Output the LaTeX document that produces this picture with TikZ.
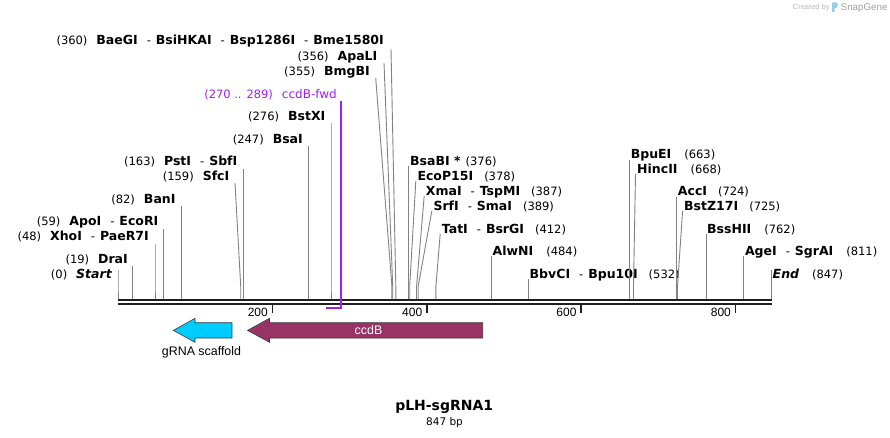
\documentclass[tikz,border=0pt]{standalone}
\usepackage{fontspec}
\setmainfont{DejaVu Sans}
\newfontfamily\arialfont{Liberation Sans}
\definecolor{sitegray}{RGB}{130,130,130}
\definecolor{primerpurple}{RGB}{160,32,240}
\definecolor{cyanfeat}{RGB}{0,204,255}
\definecolor{ccdbcol}{RGB}{153,51,102}
\definecolor{bbcol}{RGB}{30,30,30}
\definecolor{outl}{RGB}{60,60,60}
\definecolor{wmgray}{RGB}{185,185,185}
\definecolor{wmgray2}{RGB}{160,160,160}
\definecolor{logoblue}{RGB}{150,205,235}
\newcommand\nm[1]{{\fontsize{12.5}{14}\selectfont\bfseries #1}}
\newcommand\ps[1]{{\fontsize{11.5}{13}\selectfont(#1)}}
\newcommand\dsh{\hspace{9pt}{\fontsize{11.5}{13}\selectfont-}\hspace{5pt}}
\newcommand\Lsite[7]{%
  \coordinate (#1-t) at (#4,#5);
  \coordinate (#1-k) at (#6,286);
  \coordinate (#1-s) at (#6,299);
  \node[lbl,anchor=east] (#1) at (#2,#3) {#7};
  \draw[siteline] (#1-t) -- (#1-k) -- (#1-s);}
\newcommand\Rsite[7]{%
  \coordinate (#1-t) at (#4,#5);
  \coordinate (#1-k) at (#6,286);
  \coordinate (#1-s) at (#6,299);
  \node[lbl,anchor=west] (#1) at (#2,#3) {#7};
  \draw[siteline] (#1-t) -- (#1-k) -- (#1-s);}
\tikzset{
  lbl/.style={inner sep=0pt, font=\fontsize{11.5}{13}\selectfont},
  siteline/.style={draw=sitegray, line width=0.9pt},
  backbone/.style={draw=bbcol, line width=2pt},
  tickmark/.style={draw=bbcol, line width=1.6pt},
  ticklbl/.style={inner sep=0pt, anchor=base east, font=\arialfont\fontsize{12}{14}\selectfont},
  featarrow/.style={draw=outl, line width=0.6pt},
  primerline/.style={draw=primerpurple, line width=1.5pt},
}
\begin{document}
\begin{tikzpicture}[x=1pt,y=-1pt]
\useasboundingbox (0,0) rectangle (890,438);
\fill[white] (0,0) rectangle (890,438);

% watermark
\node[inner sep=0pt, anchor=base west, text=wmgray, font=\arialfont\fontsize{7.5}{9}\selectfont] (wm1) at (792.7,10) {Created by};
\fill[logoblue] (832,2.5) -- (836.5,2.5) -- (838,5) -- (836.5,7.8) -- (834.6,8.2) -- (834.6,12) -- (832,12) -- cycle;
\node[inner sep=0pt, anchor=base west, text=wmgray2, font=\arialfont\fontsize{9.8}{11}\selectfont] (wm2) at (840.5,10.5) {SnapGene};

% backbone
\coordinate (bbl1) at (118,300); \coordinate (bbr1) at (771.6,300);
\coordinate (bbl2) at (118,304); \coordinate (bbr2) at (771.6,304);
\draw[backbone] (bbl1) -- (bbr1);
\draw[backbone] (bbl2) -- (bbr2);

% ticks
\foreach \v/\xx in {200/272.3,400/426.7,600/581.0,800/735.4}{
  \coordinate (tk\v a) at (\xx,304);
  \coordinate (tk\v b) at (\xx,313);
  \draw[tickmark] (tk\v a) -- (tk\v b);
  \node[ticklbl] (tl\v) at (\xx-4.3,316) {\v};
}

% left labels
\Lsite{start}{112}{274.5}{118}{270}{118}{\ps{0}\hspace{9pt}\nm{\itshape Start}}
\Lsite{dra}{128}{260}{132.7}{266}{132.7}{\ps{19}\hspace{9pt}\nm{DraI}}
\Lsite{xho}{149}{237}{155}{244}{155}{\ps{48}\hspace{9pt}\nm{XhoI}\dsh\nm{PaeR7I}}
\Lsite{apo}{158.5}{222}{163.5}{229}{163.5}{\ps{59}\hspace{9pt}\nm{ApoI}\dsh\nm{EcoRI}}
\Lsite{ban}{175.7}{200}{181.3}{206}{181.3}{\ps{82}\hspace{9pt}\nm{BanI}}
\Lsite{sfc}{229.5}{177}{235}{183}{240.7}{\ps{159}\hspace{9pt}\nm{SfcI}}
\Lsite{pst}{237.5}{162}{243.8}{169}{243.8}{\ps{163}\hspace{9pt}\nm{PstI}\dsh\nm{SbfI}}
\Lsite{bsai}{303}{140}{308.6}{146}{308.6}{\ps{247}\hspace{9pt}\nm{BsaI}}
\Lsite{bstx}{325.5}{116.5}{331}{123}{331}{\ps{276}\hspace{9pt}\nm{BstXI}}
\Lsite{bmgb}{370}{72}{375.7}{78}{391.9}{\ps{355}\hspace{9pt}\nm{BmgBI}}
\Lsite{apal}{377.5}{57}{384}{63}{392.7}{\ps{356}\hspace{9pt}\nm{ApaLI}}
\Lsite{baeg}{384}{41.5}{391}{49}{395.8}{\ps{360}\hspace{9pt}\nm{BaeGI}\dsh\nm{BsiHKAI}\dsh\nm{Bsp1286I}\dsh\nm{Bme1580I}}

% right labels
\Rsite{bsab}{410}{162}{408.2}{166}{408.2}{\nm{BsaBI *}\hspace{5pt}\ps{376}}
\Rsite{ecop}{417.3}{177}{415.8}{181}{409.7}{\nm{EcoP15I}\hspace{11pt}\ps{378}}
\Rsite{xma}{425.7}{192}{424.2}{196}{416.6}{\nm{XmaI}\dsh\nm{TspMI}\hspace{11pt}\ps{387}}
\Rsite{srf}{433.3}{207}{431.8}{211}{418.2}{\nm{SrfI}\dsh\nm{SmaI}\hspace{11pt}\ps{389}}
\Rsite{tat}{441.7}{230}{440.2}{234}{435.9}{\nm{TatI}\dsh\nm{BsrGI}\hspace{11pt}\ps{412}}
\Rsite{alw}{492.5}{252}{491.5}{256}{491.5}{\nm{AlwNI}\hspace{13pt}\ps{484}}
\Rsite{bbv}{529.5}{275}{528.5}{279}{528.5}{\nm{BbvCI}\dsh\nm{Bpu10I}\hspace{11pt}\ps{532}}
\Rsite{bpue}{630.6}{155}{629.6}{160}{629.6}{\nm{BpuEI}\hspace{13pt}\ps{663}}
\Rsite{hinc}{637}{170}{635.5}{174}{633.5}{\nm{HincII}\hspace{13pt}\ps{668}}
\Rsite{acc}{677.7}{192}{676.7}{197}{676.7}{\nm{AccI}\hspace{11pt}\ps{724}}
\Rsite{bstz}{684}{207}{682.6}{211}{677.5}{\nm{BstZ17I}\hspace{11pt}\ps{725}}
\Rsite{bss}{707}{230}{706}{234}{706}{\nm{BssHII}\hspace{13pt}\ps{762}}
\Rsite{age}{744.8}{252}{743.8}{256}{743.8}{\nm{AgeI}\dsh\nm{SgrAI}\hspace{13pt}\ps{811}}
\Rsite{endl}{772.5}{275}{771.6}{270}{771.6}{\nm{\itshape End}\hspace{13pt}\ps{847}}

% primer
\node[lbl, anchor=east, text=primerpurple] (fwd) at (337,95) {\ps{270 .. 289}\hspace{9pt}{\fontsize{12}{13}\selectfont ccdB-fwd}};
\coordinate (pt) at (340.9,101);
\coordinate (pc) at (340.9,308);
\coordinate (pe) at (326.4,308);
\draw[primerline] (pt) -- (pc) -- (pe);

% features
\draw[featarrow, fill=cyanfeat] (232,322.7) -- (195,322.7) -- (195,318.3) -- (173.3,330.4) -- (195,342.3) -- (195,338) -- (232,338) -- cycle;
\node[inner sep=0pt, anchor=base, font=\arialfont\fontsize{12.4}{14}\selectfont] (grna) at (201.5,355.7) {gRNA scaffold};
\draw[featarrow, fill=ccdbcol] (482.7,322.7) -- (269.5,322.7) -- (269.5,318.3) -- (247.5,330.4) -- (269.5,342.3) -- (269.5,338) -- (482.7,338) -- cycle;
\node[inner sep=0pt, anchor=base, text=white, font=\arialfont\fontsize{12.4}{14}\selectfont] (ccdb) at (368.5,334.3) {ccdB};

% title
\node[inner sep=0pt, anchor=base, font=\fontsize{14}{16}\selectfont\bfseries] (title) at (444.2,410.7) {pLH-sgRNA1};
\node[inner sep=0pt, anchor=base, font=\fontsize{10.5}{12}\selectfont] (bp) at (444.5,425.3) {847 bp};
\end{tikzpicture}
\end{document}
